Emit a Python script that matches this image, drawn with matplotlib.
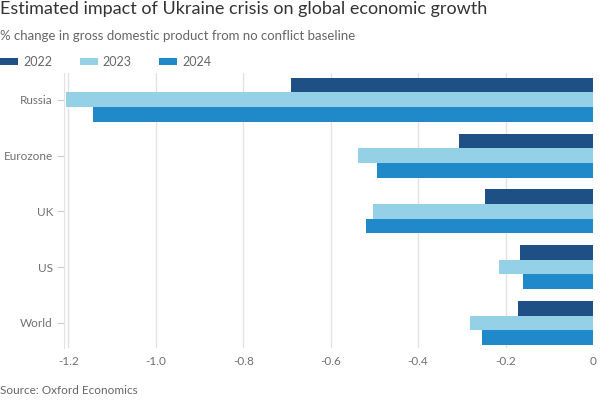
import matplotlib
matplotlib.use("Agg")
import matplotlib.pyplot as plt
import numpy as np

categories = ["Russia", "Eurozone", "UK", "US", "World"]
years = ["2022", "2023", "2024"]
v2022 = [-0.691, -0.307, -0.246, -0.168, -0.171]
v2023 = [-1.205, -0.537, -0.503, -0.215, -0.281]
v2024 = [-1.144, -0.493, -0.519, -0.161, -0.254]
xticks = [-1.2, -1.0, -0.8, -0.6, -0.4, -0.2, 0]
xticklabels = ["-1.2", "-1.0", "-0.8", "-0.6", "-0.4", "-0.2", "0"]

colors = ["#1e4f85", "#94d0e6", "#2089c9"]
plt.rcParams['font.family'] = ['Lato', 'DejaVu Sans']

fig = plt.figure(figsize=(6, 4), dpi=100)
ax = fig.add_axes([64/600, 52/400, (593-64)/600, 275/400])

y = np.arange(len(categories))
h = 0.263
for i, (vals, c, lab) in enumerate(zip([v2022, v2023, v2024], colors, years)):
    ax.barh(y + (i - 1) * h, vals, height=h, color=c, label=lab, zorder=3)

ax.set_xlim(-1.21, 0)
ax.set_ylim(4.45, -0.48)
ax.set_xticks(xticks)
ax.set_xticklabels(xticklabels)
ax.set_yticks(y)
ax.set_yticklabels(categories)
ax.grid(axis='x', color='#e2e2e2', linewidth=1, zorder=0)
for s in ['top', 'right', 'bottom']:
    ax.spines[s].set_visible(False)
ax.spines['left'].set_color('#e2e2e2')
ax.tick_params(axis='x', length=0, pad=6, labelsize=8.5, labelcolor='#707070')
ax.tick_params(axis='y', length=5, width=0.8, color='#cccccc', pad=3,
               labelsize=8.5, labelcolor='#707070')

fig.text(0.0, 0.978, "Estimated impact of Ukraine crisis on global economic growth",
         fontsize=13, color='#333333', va='center', ha='left')
fig.text(0.0, 0.91, "% change in gross domestic product from no conflict baseline",
         fontsize=9.5, color='#666666', va='center', ha='left')
fig.text(0.0, 0.025, "Source: Oxford Economics", fontsize=8.5, color='#666666',
         va='center', ha='left')

leg = fig.legend(loc='center left', bbox_to_anchor=(0.0, 0.845), ncol=3, frameon=False,
                 fontsize=9, handlelength=1.45, handleheight=0.55, columnspacing=2.2,
                 handletextpad=0.4, borderpad=0, borderaxespad=0,
                 labelcolor='#666666')

fig.savefig("out.png", dpi=100)
